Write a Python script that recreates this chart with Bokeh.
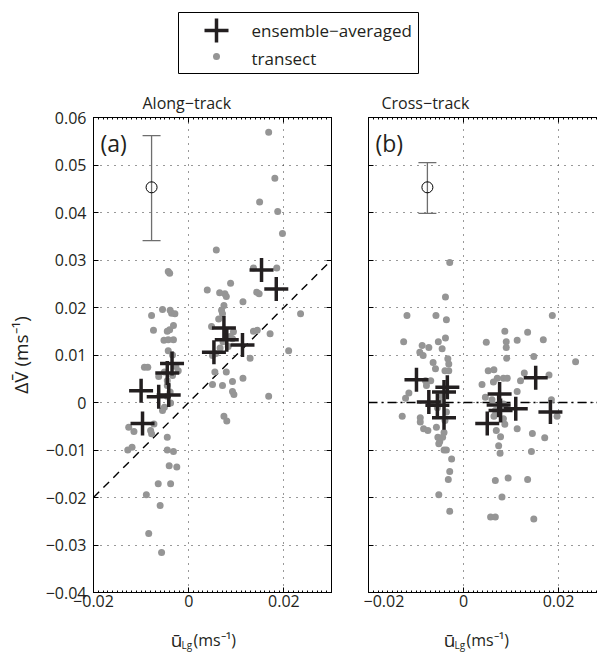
import numpy as np
from bokeh.plotting import figure
from bokeh.layouts import column, row
from bokeh.models import (Range1d, FixedTicker, LinearAxis, Label, Whisker, TeeHead,
                          ColumnDataSource, Title)
from bokeh.core.properties import value
from bokeh.embed import file_html
from bokeh.resources import INLINE

FONT = "Open Sans"
INK = "#231f20"
DOT = "#959595"
ERR = "#6e6e6e"

# ---------------- data ----------------
# panel (a) along-track: transect points
a_transect_x = [0.0168, 0.0181, 0.0149, 0.0187, 0.0197, 0.0058, -0.0043, -0.0040, 0.0136, 0.0185,
                0.0088, 0.0039, 0.0065, 0.0076, 0.0079, 0.0143, 0.0148, 0.0114, 0.0074, 0.0069,
                0.0071, -0.0055, -0.0039, -0.0036, -0.0029, -0.0078, 0.0235, 0.0063, -0.0032, -0.0040,
                -0.0045, -0.0074, 0.0048, 0.0094, 0.0087, 0.0092, 0.0136, 0.0144, 0.0171, -0.0052,
                -0.0043, -0.0032, -0.0043, -0.0034, 0.0210, 0.0050, 0.0057, 0.0129, -0.0093, -0.0086,
                -0.0027, -0.0022, -0.0034, -0.0051, -0.0063, -0.0045, 0.0055, 0.0079, 0.0050, 0.0071,
                0.0092, 0.0114, -0.0045, -0.0039, -0.0045, 0.0092, 0.0095, 0.0168, -0.0038, -0.0051,
                -0.0055, 0.0074, 0.0080, -0.0126, -0.0115, -0.0073, -0.0080, -0.0078, -0.0045, 0.0083,
                0.0066, 0.0072, -0.0128, -0.0119, -0.0045, -0.0032, -0.0041, -0.0025, -0.0064, -0.0038,
                -0.0089, -0.0060, -0.0084, -0.0057]
a_transect_y = [0.0569, 0.0472, 0.0422, 0.0402, 0.0356, 0.0321, 0.0276, 0.0272, 0.0283, 0.0283,
                0.0251, 0.0237, 0.0231, 0.0229, 0.0223, 0.0232, 0.0229, 0.0212, 0.0204, 0.0194,
                0.0187, 0.0196, 0.0194, 0.0188, 0.0187, 0.0183, 0.0187, 0.0176, 0.0162, 0.0153,
                0.0150, 0.0152, 0.0160, 0.0149, 0.0139, 0.0134, 0.0150, 0.0152, 0.0145, 0.0131,
                0.0132, 0.0132, 0.0109, 0.0100, 0.0109, 0.0099, 0.0103, 0.0093, 0.0074, 0.0074,
                0.0076, 0.0067, 0.0057, 0.0064, 0.0055, 0.0046, 0.0064, 0.0064, 0.0038, 0.0036,
                0.0044, 0.0051, 0.0036, 0.0022, 0.0013, 0.0023, 0.0017, 0.0013, -0.0001, -0.0010,
                -0.0017, -0.0029, -0.0039, -0.0052, -0.0061, -0.0045, -0.0059, -0.0066, -0.0073, 0.0118,
                0.0115, 0.0128, -0.0100, -0.0094, -0.0100, -0.0103, -0.0133, -0.0136, -0.0171, -0.0171,
                -0.0194, -0.0217, -0.0276, -0.0316]
# panel (a): ensemble-averaged points
a_ens_x = [0.0153, 0.0184, 0.0074, 0.0080, 0.0113, 0.0053, -0.0035, -0.0045, -0.0100, -0.0063, -0.0042, -0.0097]
a_ens_y = [0.0279, 0.0239, 0.0157, 0.0132, 0.0121, 0.0106, 0.0082, 0.0062, 0.0025, 0.0012, 0.0016, -0.0044]

# panel (b) cross-track: transect points
b_transect_x = [-0.0029, -0.0038, -0.0119, -0.0058, -0.0036, 0.0187, 0.0087, 0.0135,
                -0.0126, -0.0087, -0.0073, -0.0092, -0.0085, -0.0053, -0.0038, -0.0045, -0.0033, -0.0031,
                -0.0039, -0.0031, -0.0064, -0.0059, -0.0080, -0.0069, -0.0078, -0.0115, -0.0122, -0.0048,
                -0.0046, -0.0055, -0.0036, -0.0039, -0.0129, -0.0091, -0.0091, -0.0084, -0.0075, -0.0057,
                -0.0054, -0.0050, -0.0052, -0.0041, -0.0044, -0.0041, -0.0036, -0.0025, -0.0029, -0.0032,
                -0.0052, -0.0029,
                0.0048, 0.0090, 0.0090, 0.0113, 0.0168, 0.0091, 0.0148, 0.0236, 0.0052, 0.0064,
                0.0128, 0.0180, 0.0071, 0.0084, 0.0092, 0.0063, 0.0039, 0.0120, 0.0113, 0.0046,
                0.0060, 0.0185, 0.0084, 0.0088, 0.0067, 0.0074, 0.0064, 0.0084, 0.0197, 0.0087,
                0.0113, 0.0069, 0.0078, 0.0145, 0.0171, 0.0074, 0.0077, 0.0143, 0.0067, 0.0094,
                0.0135, 0.0081, 0.0057, 0.0067, 0.0148]
b_transect_y = [0.0295, 0.0222, 0.0183, 0.0183, 0.0174, 0.0183, 0.0150, 0.0148,
                0.0128, 0.0120, 0.0116, 0.0106, 0.0099, 0.0128, 0.0136, 0.0113, 0.0092, 0.0081,
                0.0067, 0.0067, 0.0084, 0.0071, 0.0046, 0.0046, 0.0036, 0.0020, 0.0009, 0.0015,
                0.0001, -0.0011, -0.0020, -0.0038, -0.0029, -0.0032, -0.0041, -0.0055, -0.0059, -0.0052,
                -0.0073, -0.0082, -0.0087, -0.0063, -0.0073, -0.0100, -0.0100, -0.0119, -0.0145, -0.0162,
                -0.0194, -0.0229,
                0.0127, 0.0128, 0.0116, 0.0131, 0.0132, 0.0093, 0.0097, 0.0086, 0.0067, 0.0069,
                0.0062, 0.0058, 0.0051, 0.0051, 0.0051, 0.0043, 0.0038, 0.0046, 0.0023, 0.0011,
                0.0006, 0.0006, -0.0003, -0.0012, -0.0017, -0.0024, -0.0029, -0.0034, -0.0029, -0.0046,
                -0.0055, -0.0059, -0.0072, -0.0065, -0.0074, -0.0091, -0.0107, -0.0103, -0.0164, -0.0159,
                -0.0162, -0.0199, -0.0241, -0.0241, -0.0245]
# panel (b): ensemble-averaged points
b_ens_x = [-0.0099, -0.0034, -0.0041, -0.0073, -0.0055, -0.0041, 0.0152, 0.0076, 0.0074, 0.0078, 0.0110, 0.0050, 0.0183]
b_ens_y = [0.0048, 0.0032, 0.0022, 0.0001, -0.0006, -0.0032, 0.0052, 0.0018, -0.0005, -0.0017, -0.0013, -0.0044, -0.0020]

# representative error bars
a_err_x, a_err_y, a_err_lo, a_err_hi = [-0.0078], [0.0453], [0.0341], [0.0562]
b_err_x, b_err_y, b_err_lo, b_err_hi = [-0.0076], [0.0453], [0.0398], [0.0505]

# reference lines
one_to_one_x = [-0.02, 0.03]
one_to_one_y = [-0.02, 0.03]
zero_x = [-0.02, 0.03]
zero_y = [0.0, 0.0]

# ticks and texts
x_ticks = [-0.02, 0.0, 0.02]
x_tick_labels = ["\u22120.02", "0", "0.02"]
y_ticks = [-0.04, -0.03, -0.02, -0.01, 0.0, 0.01, 0.02, 0.03, 0.04, 0.05, 0.06]
y_tick_labels = ["\u22120.04", "\u22120.03", "\u22120.02", "\u22120.01", "0",
                 "0.01", "0.02", "0.03", "0.04", "0.05", "0.06"]
legend_labels = ["ensemble\u2212averaged", "transect"]
titles = ["Along\u2212track", "Cross\u2212track"]
tags = ["(a)", "(b)"]
ylabel = "\u0394V\u0304 (ms\u207b\u00b9)"
xlabel_main, xlabel_sub, xlabel_unit = "\u016b", "Lg", "(ms\u207b\u00b9)"

# ---------------- layout constants ----------------
PX = 4750.0           # pixels per data unit
FH = 475              # frame height
FW_A = 238
FW_B = 229
X_MAX_B = -0.02 + FW_B / PX
W = 597
HEAD_H = 86
ROW_TOP, ROW_BOTTOM = 31, 24
LEFT_A = 93
XLAB_H = 653 - HEAD_H - ROW_TOP - FH - ROW_BOTTOM
TITLE_OFFSETS = [49, 13]

x_minor = [round(v, 4) for v in np.arange(-0.04, 0.0401, 0.001)]


def style_axis(ax, ticks, labels, show_labels, minor=None):
    ax.ticker = FixedTicker(ticks=ticks, minor_ticks=minor or [])
    ax.major_tick_in = 5
    ax.major_tick_out = 0
    ax.minor_tick_in = 2 if minor else 0
    ax.minor_tick_out = 0
    ax.axis_line_color = "black"
    ax.major_tick_line_color = "black"
    ax.minor_tick_line_color = "black"
    if show_labels:
        ax.major_label_overrides = {t: l for t, l in zip(ticks, labels)}
        ax.major_label_text_font = FONT
        ax.major_label_text_font_size = "16px"
        ax.major_label_text_color = INK
        ax.major_label_standoff = 7
    else:
        ax.major_label_overrides = {t: "" for t in ticks}
        ax.major_label_text_font_size = "0px"
        ax.major_label_standoff = 0


def panel(idx, fw, xmax, tx, ty, ex, ey, ex0, ey0, elo, ehi, left_border, right_border, with_right):
    p = figure(frame_width=fw, frame_height=FH,
               x_range=Range1d(-0.02, xmax), y_range=Range1d(-0.04, 0.06),
               output_backend="svg", toolbar_location=None,
               min_border_left=left_border, min_border_right=right_border,
               min_border_top=ROW_TOP, min_border_bottom=ROW_BOTTOM,
               background_fill_color="white", border_fill_color="white")
    p.title = Title(text=titles[idx], align="left", offset=TITLE_OFFSETS[idx],
                    text_font=FONT, text_font_size="16px", text_font_style="normal",
                    text_color=INK, standoff=7)
    p.outline_line_color = "black" if with_right else None
    style_axis(p.xaxis[0], x_ticks, x_tick_labels, True, x_minor)
    p.xaxis[0].major_label_standoff = 2
    style_axis(p.yaxis[0], y_ticks, y_tick_labels, idx == 0)
    if idx == 0:
        yax = p.yaxis[0]
        yax.axis_label = ylabel
        yax.axis_label_text_font = FONT
        yax.axis_label_text_font_size = "19px"
        yax.axis_label_text_font_style = "normal"
        yax.axis_label_text_color = INK
        yax.axis_label_standoff = 9
    top = LinearAxis()
    style_axis(top, x_ticks, x_tick_labels, False, x_minor)
    p.add_layout(top, "above")
    if with_right:
        right = LinearAxis()
        style_axis(right, y_ticks, y_tick_labels, False)
        p.add_layout(right, "right")
    p.xgrid.ticker = FixedTicker(ticks=x_ticks)
    p.ygrid.ticker = FixedTicker(ticks=y_ticks)
    p.grid.grid_line_color = "#333333"
    p.grid.grid_line_dash = "1 6"
    p.grid.grid_line_width = 1

    if idx == 0:
        p.line(one_to_one_x, one_to_one_y, line_color="black", line_width=1.4, line_dash="8 6")
    else:
        p.line(zero_x, zero_y, line_color="black", line_width=1.4, line_dash="9 4 2 4")

    p.scatter(tx, ty, marker="circle", size=7, fill_color=DOT, line_color=None)
    p.scatter(ex, ey, marker="cross", size=24, line_width=3.5, line_color=INK)

    src = ColumnDataSource(dict(x=ex0, y=ey0, lo=elo, hi=ehi))
    p.add_layout(Whisker(source=src, base="x", upper="hi", lower="lo", dimension="height",
                         line_color=ERR, line_width=1.3,
                         upper_head=TeeHead(size=18, line_color=ERR, line_width=1.3),
                         lower_head=TeeHead(size=18, line_color=ERR, line_width=1.3)))
    p.scatter("x", "y", source=src, marker="circle", size=11, fill_color=None,
              line_color="black", line_width=1)

    p.add_layout(Label(x=7, y=450, x_units="screen", y_units="screen", text=tags[idx],
                       text_font=FONT, text_font_size="23px", text_color=INK,
                       text_baseline="middle"))
    return p


def blank(width, height):
    f = figure(width=width, height=height, x_range=Range1d(0, width),
               y_range=Range1d(height, 0),
               output_backend="svg", toolbar_location=None, min_border=0,
               x_axis_location=None, y_axis_location=None, outline_line_color=None,
               background_fill_color="white", border_fill_color="white")
    f.grid.visible = False
    return f


pa = panel(0, FW_A, 0.03, a_transect_x, a_transect_y, a_ens_x, a_ens_y,
           a_err_x, a_err_y, a_err_lo, a_err_hi, LEFT_A, 32, True)
pb = panel(1, FW_B, X_MAX_B, b_transect_x, b_transect_y, b_ens_x, b_ens_y,
           b_err_x, b_err_y, b_err_lo, b_err_hi, 5, 0, False)

# ---------------- header: legend ----------------
head = blank(W, HEAD_H)
head.quad(left=[178], right=[418], top=[12], bottom=[73], fill_color="white",
          line_color="black", line_width=1)
head.scatter([216], [30], marker="cross", size=24, line_width=3.5, line_color=INK)
head.scatter([216], [56], marker="circle", size=7, fill_color=DOT, line_color=None)
head.text([251, 251], [30, 58], text=legend_labels, text_font=value(FONT),
          text_font_size="17px", text_baseline="middle", text_color=INK)

# ---------------- x labels ----------------
row_h = ROW_TOP + FH + ROW_BOTTOM
xlab = blank(W, XLAB_H)
xl_top = HEAD_H + row_h
xc = [176, 449]
xlab.text(xc, [639 - xl_top] * 2, text=[xlabel_main] * 2, text_font=value(FONT),
          text_font_size="19px", text_align="center", text_baseline="alphabetic", text_color=INK)
xlab.text([c + 5 for c in xc], [644 - xl_top] * 2, text=[xlabel_sub] * 2, text_font=value(FONT),
          text_font_size="10px", text_align="left", text_baseline="alphabetic", text_color=INK)
xlab.text([c + 17 for c in xc], [639 - xl_top] * 2, text=[xlabel_unit] * 2, text_font=value(FONT),
          text_font_size="16px", text_align="left", text_baseline="alphabetic", text_color=INK)

layout = column(head, row(pa, pb), xlab)
open("out.html", "w").write(file_html(layout, INLINE))
